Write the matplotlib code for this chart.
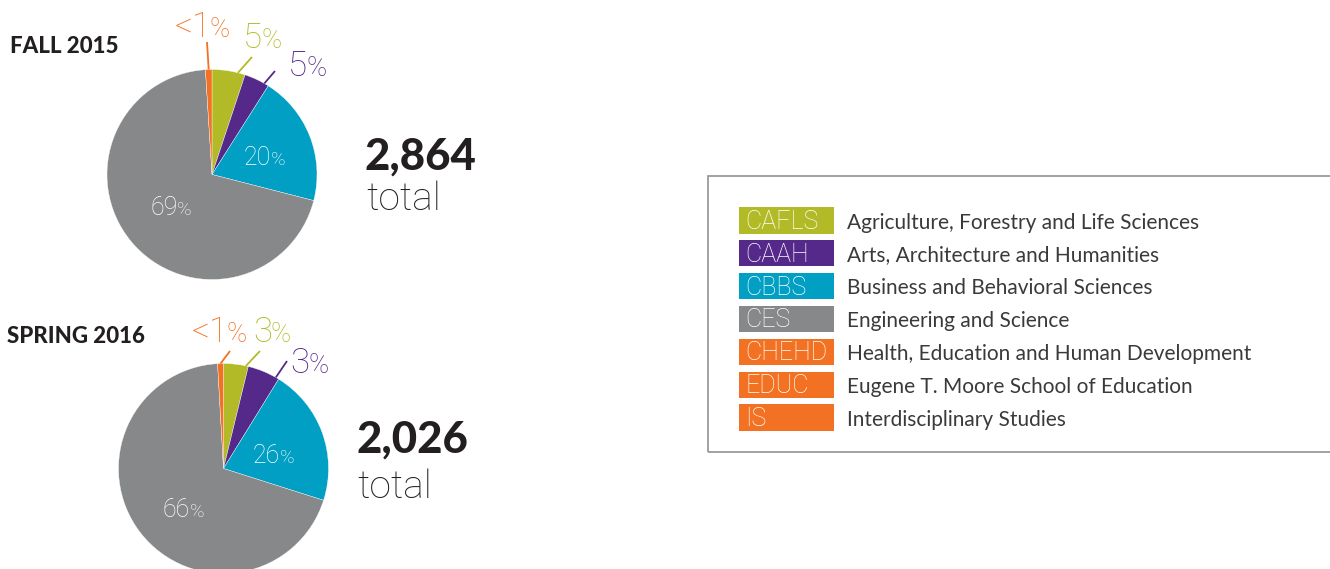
import matplotlib
matplotlib.use("Agg")
import matplotlib.pyplot as plt
from matplotlib.patches import Rectangle
import numpy as np

# ---------------- data ----------------
colleges = ["CAFLS", "CAAH", "CBBS", "CES", "CHEHD", "EDUC", "IS"]
college_names = [
    "Agriculture, Forestry and Life Sciences",
    "Arts, Architecture and Humanities",
    "Business and Behavioral Sciences",
    "Engineering and Science",
    "Health, Education and Human Development",
    "Eugene T. Moore School of Education",
    "Interdisciplinary Studies",
]
college_colors = ["#B2BB27", "#55298A", "#009FC3", "#868889", "#F37122", "#F37122", "#F37122"]

# pie slices, clockwise from 12 o'clock
pie_groups = ["CAFLS", "CAAH", "CBBS", "CES", "CHEHD/EDUC/IS"]
pie_colors = ["#B2BB27", "#55298A", "#009FC3", "#868889", "#F37122"]

fall_title = "FALL 2015"
fall_total = "2,864"
fall_shares = [5.1, 3.9, 20.0, 70.0, 1.0]
fall_labels = ["5", "5", "20", "69", "<1"]

spring_title = "SPRING 2016"
spring_total = "2,026"
spring_shares = [3.8, 5.0, 21.1, 69.2, 0.9]
spring_labels = ["3", "3", "26", "66", "<1"]

# ---------------- layout (pixel coords, y from top) ----------------
W, H = 1330, 569
FONT = "Lato"
THIN = ["Roboto", "Lato"]
DARK = "#231F20"

panels = [
    dict(title=fall_title, total=fall_total, shares=fall_shares, labels=fall_labels,
         center=(212, 174.5), radius=105, title_pos=(10, 53),
         total_pos=(365, 170), total_word_pos=(366, 210),
         label_pos=[(243, 48), (288, 76), (244, 165), (150, 215), (175, 37)],
         leaders={0: ((252, 57), 0.78), 1: ((275, 71), 0.82), 4: ((207, 42), 0.5)}),
    dict(title=spring_title, total=spring_total, shares=spring_shares, labels=spring_labels,
         center=(223.5, 468.5), radius=105, title_pos=(7, 343),
         total_pos=(357, 453), total_word_pos=(357, 498),
         label_pos=[(253, 342), (290, 373), (253, 463), (163, 517), (192, 342)],
         leaders={0: ((260, 351), 0.9), 1: ((287, 361), 0.9), 4: ((230, 351), 0.5)}),
]

fig = plt.figure(figsize=(W / 100, H / 100), dpi=100)
ax = fig.add_axes([0, 0, 1, 1])
renderer = fig.canvas.get_renderer()


def Y(y):
    return H - y


def pct_label(x, y, num, color, size, gap):
    t = ax.text(x, Y(y), num, fontsize=size, family=THIN, fontweight="light",
                color=color, ha="left", va="baseline")
    bb = t.get_window_extent(renderer)
    ax.text(x + bb.width + gap, Y(y), "%", fontsize=size * 0.78, family=THIN,
            fontweight="light", color=color, ha="left", va="baseline")


for p in panels:
    cx, cy = p["center"]
    wedges, _ = ax.pie(p["shares"], colors=pie_colors, startangle=90, counterclock=False,
                       center=(cx, Y(cy)), radius=p["radius"],
                       wedgeprops=dict(edgecolor="white", linewidth=0.25))
    # labels
    for i, (lab, (lx, ly)) in enumerate(zip(p["labels"], p["label_pos"])):
        if i in (2, 3):
            pct_label(lx, ly, lab, "white", 18, 0.0)
        else:
            pct_label(lx, ly, lab, pie_colors[i], 25, -2.5 if lab.endswith("1") else -1.0)
    # leader lines
    for i, ((ox, oy), f) in p["leaders"].items():
        w = wedges[i]
        ang = np.deg2rad(w.theta2 - f * (w.theta2 - w.theta1))
        ix = cx + p["radius"] * np.cos(ang)
        iy = Y(cy) + p["radius"] * np.sin(ang)
        ax.plot([ix, ox], [iy, Y(oy)], color=pie_colors[i], lw=1.3, solid_capstyle="butt")
    # title / totals
    tx, ty = p["title_pos"]
    ax.text(tx, Y(ty), p["title"], fontsize=16, family=FONT, fontweight="black",
            color=DARK, ha="left", va="baseline")
    nx, ny = p["total_pos"]
    ax.text(nx, Y(ny), p["total"], fontsize=31.5, family=FONT, fontweight="black",
            color=DARK, ha="left", va="baseline")
    wx, wy = p["total_word_pos"]
    ax.text(wx, Y(wy), "total", fontsize=28, family=THIN, fontweight="light",
            color=DARK, ha="left", va="baseline")

# ---------------- legend ----------------
ax.add_patch(Rectangle((708, Y(452)), 700, 452 - 176, facecolor="none",
                       edgecolor="#9A9A9A", linewidth=1.3))
row0, row_step, patch_h = 220.3, 32.9, 26.5
for i, (code, name, col) in enumerate(zip(colleges, college_names, college_colors)):
    yc = row0 + i * row_step
    ax.add_patch(Rectangle((739, Y(yc + patch_h / 2)), 95, patch_h,
                           facecolor=col, edgecolor="none"))
    ax.text(745, Y(yc + 8.4), code, fontsize=18, family=THIN, fontweight="light",
            color="white", ha="left", va="baseline")
    ax.text(847, Y(yc + 8.2), name, fontsize=15, family=FONT, fontweight="normal",
            color="#3A3A3A", ha="left", va="baseline")

ax.set_xlim(0, W)
ax.set_ylim(0, H)
ax.set_aspect("auto")
ax.axis("off")
fig.savefig("out.png", dpi=100, facecolor="white")
